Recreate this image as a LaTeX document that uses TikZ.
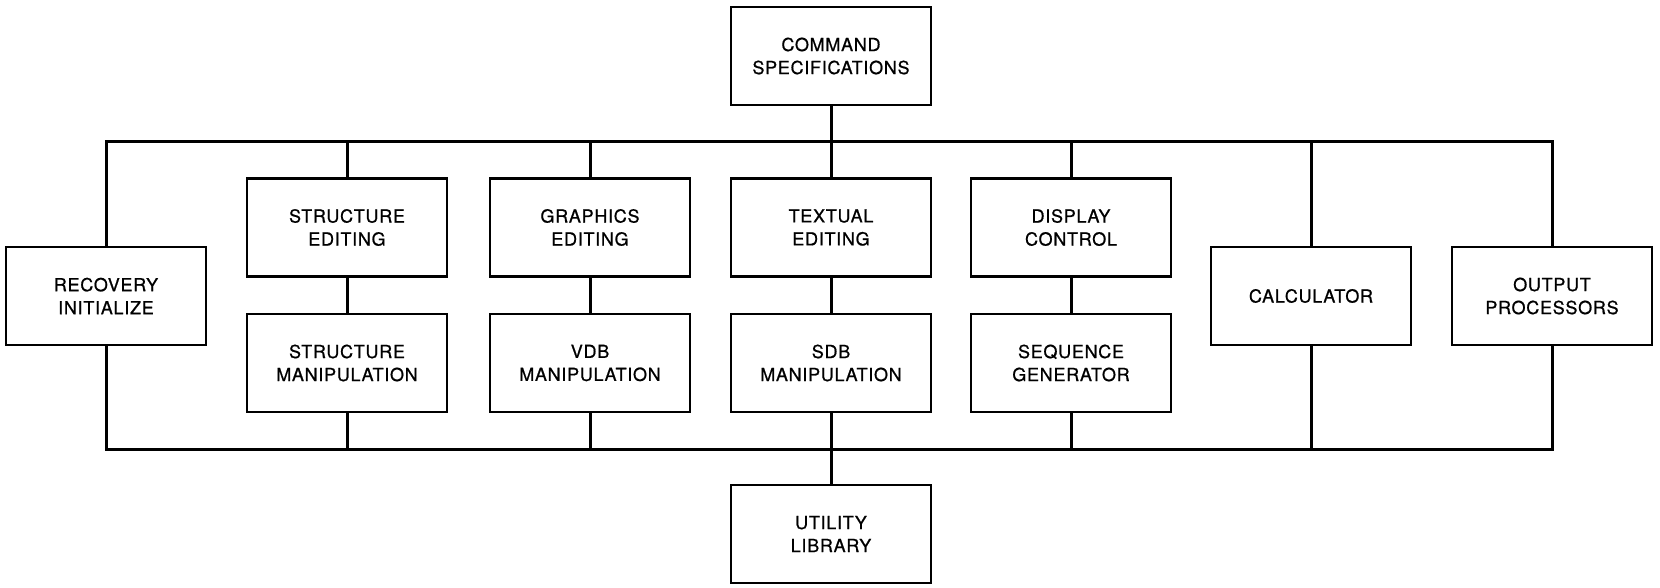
\documentclass[tikz,border=0pt]{standalone}
\usepackage{fontspec}
\setmainfont{TeX Gyre Heros}[LetterSpace=4,FakeBold=0.8]
\begin{document}
\begin{tikzpicture}[x=1pt,y=-1pt,
  box/.style={draw,line width=2.4pt,minimum width=200pt,minimum height=98pt,
    align=center,inner sep=0pt,font=\fontsize{18}{23}\selectfont},
  bus/.style={line width=3pt}]
\useasboundingbox (0,0) rectangle (1660,588);
\node[box] (cmd) at (831,56) {COMMAND\\SPECIFICATIONS};
\node[box] (rec) at (106,296) {RECOVERY\\INITIALIZE};
\node[box] (se) at (347,227.5) {STRUCTURE\\EDITING};
\node[box] (sm) at (347,363) {STRUCTURE\\MANIPULATION};
\node[box] (ge) at (590,227.5) {GRAPHICS\\EDITING};
\node[box] (vm) at (590,363) {VDB\\MANIPULATION};
\node[box] (te) at (831,227.5) {TEXTUAL\\EDITING};
\node[box] (sdb) at (831,363) {SDB\\MANIPULATION};
\node[box] (dc) at (1071,227.5) {DISPLAY\\CONTROL};
\node[box] (sg) at (1071,363) {SEQUENCE\\GENERATOR};
\node[box] (calc) at (1311,296) {CALCULATOR};
\node[box] (out) at (1552,296) {OUTPUT\\PROCESSORS};
\node[box] (util) at (831,534) {UTILITY\\LIBRARY};
\coordinate (topy) at (0,142);
\coordinate (boty) at (0,449);
% top bus
\draw[bus] (rec.north) |- (out.north |- topy) -- (out.north);
% bottom bus
\draw[bus] (rec.south) |- (out.south |- boty) -- (out.south);
% drops from top bus
\draw[bus] (cmd.south) -- (cmd.south |- topy);
\foreach \n in {se,ge,te,dc,calc}{
  \draw[bus] (\n.north) -- (\n.north |- topy);
}
% editing to manipulation
\draw[bus] (se.south) -- (sm.north);
\draw[bus] (ge.south) -- (vm.north);
\draw[bus] (te.south) -- (sdb.north);
\draw[bus] (dc.south) -- (sg.north);
% drops to bottom bus
\foreach \n in {sm,vm,sdb,sg,calc}{
  \draw[bus] (\n.south) -- (\n.south |- boty);
}
\draw[bus] (util.north) -- (util.north |- boty);
\end{tikzpicture}
\end{document}
